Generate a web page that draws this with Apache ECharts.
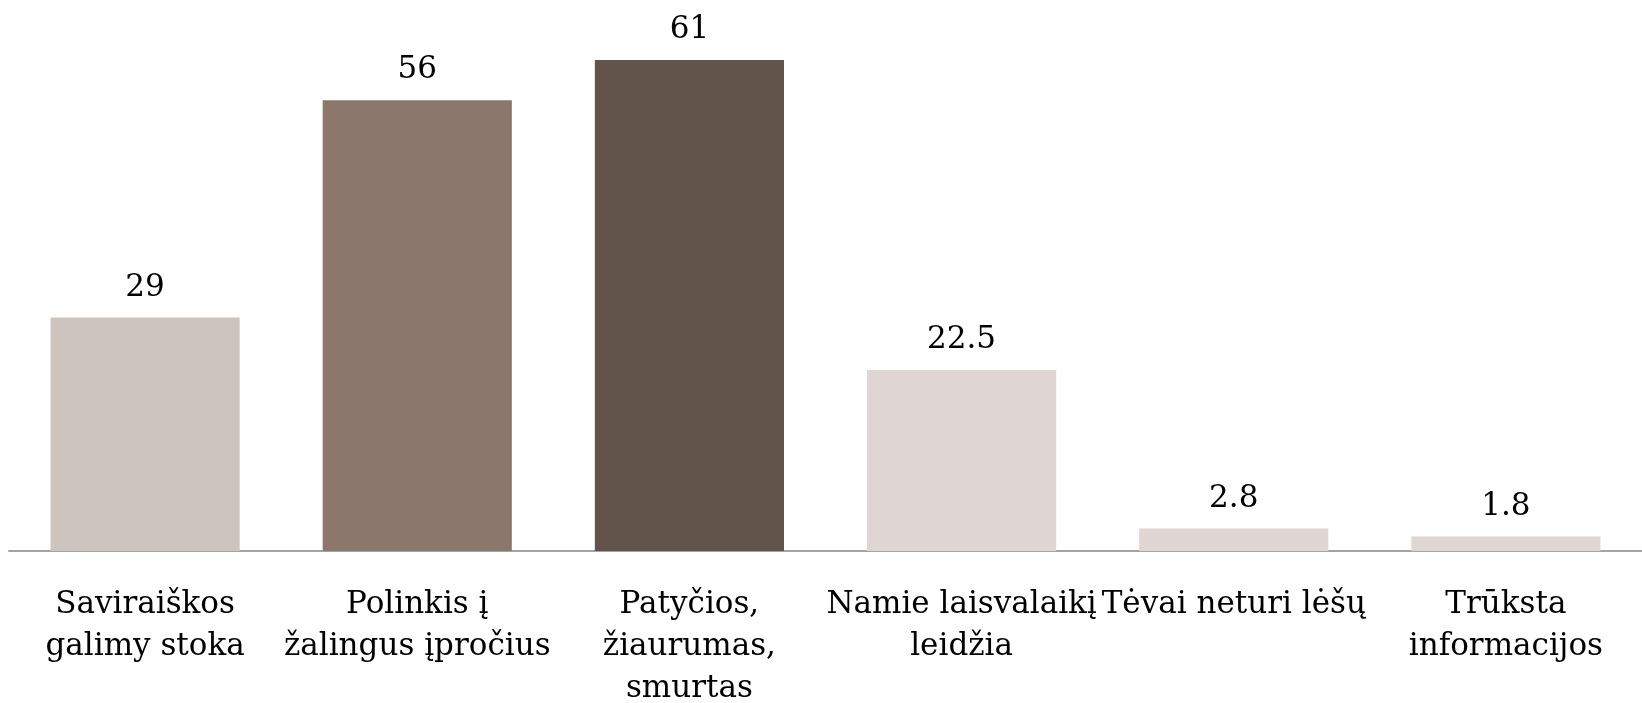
<!DOCTYPE html>
<html>
<head>
<meta charset="utf-8">
<script src="https://cdn.jsdelivr.net/npm/echarts@6/dist/echarts.min.js"></script>
<style>
html,body{margin:0;padding:0;background:#fff;}
#chart{width:1642px;height:703px;}
</style>
</head>
<body>
<div id="chart"></div>
<script>
const categories = [
  "Saviraiškos\ngalimy stoka",
  "Polinkis į\nžalingus įpročius",
  "Patyčios,\nžiaurumas,\nsmurtas",
  "Namie laisvalaikį\nleidžia",
  "Tėvai neturi lėšų",
  "Trūksta\ninformacijos"
];
const values = [29, 56, 61, 22.5, 2.8, 1.8];
const barColors = ["#CEC4BF", "#8B776C", "#62534B", "#DFD6D4", "#DFD6D4", "#DFD6D4"];

const chart = echarts.init(document.getElementById('chart'), null, {renderer: 'canvas'});
const font = 'DejaVu Serif';
chart.setOption({
  animation: false,
  backgroundColor: '#ffffff',
  grid: {left: 9, right: 0, top: 60, bottom: 152, containLabel: false, outerBoundsMode: 'none'},
  xAxis: {
    type: 'category',
    data: categories,
    axisLine: {show: true, lineStyle: {color: '#A3A3A3', width: 2}},
    axisTick: {show: false},
    axisLabel: {
      interval: 0,
      margin: 33,
      color: '#000000',
      fontFamily: font,
      fontSize: 31,
      lineHeight: 42,
      overflow: 'none'
    }
  },
  yAxis: {
    type: 'value',
    min: 0,
    max: 'dataMax',
    show: false,
    splitLine: {show: false}
  },
  series: [{
    type: 'bar',
    data: values.map((v, i) => ({value: v, itemStyle: {color: barColors[i]}})),
    barCategoryGap: '30.5%',
    label: {
      show: true,
      position: 'top',
      distance: 10,
      color: '#000000',
      fontFamily: font,
      fontSize: 31,
      lineHeight: 40
    }
  }]
});
</script>
</body>
</html>
